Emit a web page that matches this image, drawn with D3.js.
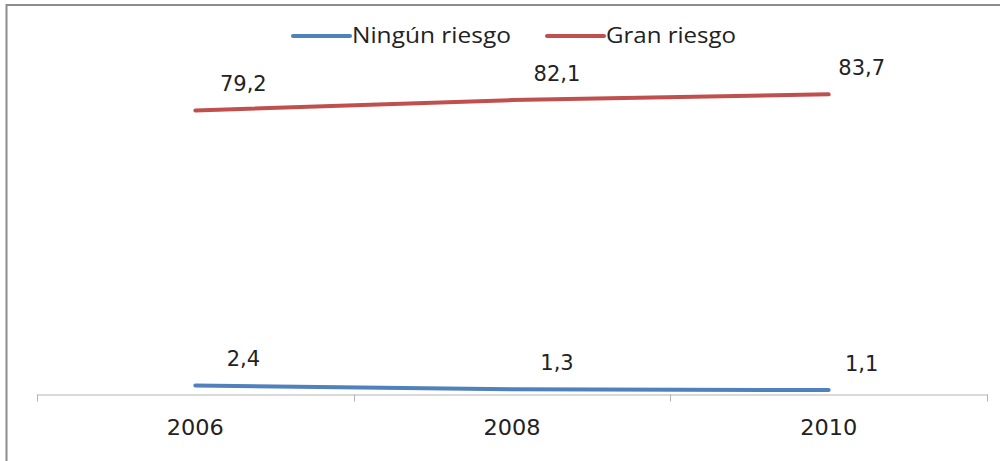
<!DOCTYPE html>
<html>
<head>
<meta charset="utf-8">
<script src="https://cdn.jsdelivr.net/npm/d3@7"></script>
<style>
  body { margin: 0; background: #fff; }
  svg { display: block; }
  text { font-family: "DejaVu Sans", Verdana, sans-serif; fill: #222; }
  .legend text { font-family: "Liberation Sans Narrow", "Open Sans", sans-serif; }
</style>
</head>
<body>
<svg width="1007" height="461"></svg>
<script>
const years = ["2006", "2008", "2010"];
const seriesNames = ["Ningún riesgo", "Gran riesgo"];
const ningunRiesgo = [2.4, 1.3, 1.1];
const granRiesgo = [79.2, 82.1, 83.7];
const colors = ["#4f81bd", "#c0504d"];

const svg = d3.select("svg");

// frame (left and top edges are visible, rest is cropped)
svg.append("path")
  .attr("d", "M6.5,461V5H1000")
  .attr("fill", "none")
  .attr("stroke", "#8c8c8c")
  .attr("stroke-width", 2);

const x = d3.scaleBand().domain(years).range([37, 987]);
const y = d3.scaleLinear().domain([0, 90]).range([394, 394 - 90 * 3.58]);

// category axis
const xAxis = svg.append("g")
  .attr("transform", "translate(0,394.5)")
  .call(d3.axisBottom(x).tickSize(0).tickPadding(40));
xAxis.select(".domain").attr("stroke", "#b3b3b3");
xAxis.selectAll("text").attr("font-size", 21).attr("fill", "#222")
  .attr("font-family", "DejaVu Sans, sans-serif")
  .attr("dy", 0)
  .attr("textLength", 57).attr("lengthAdjust", "spacingAndGlyphs");
const bounds = years.map(d => x(d)).concat([x.range()[1]]);
xAxis.selectAll(".sep").data(bounds).enter().append("line")
  .attr("class", "sep")
  .attr("x1", d => Math.round(d) + 0.5).attr("x2", d => Math.round(d) + 0.5)
  .attr("y1", 0).attr("y2", 7)
  .attr("stroke", "#b3b3b3");

const series = [ningunRiesgo, granRiesgo].map((vals, i) => ({
  name: seriesNames[i], color: colors[i],
  values: vals.map((v, j) => ({ year: years[j], v, i: j }))
}));

const cx = d => x(d.year) + x.bandwidth() / 2;
const line = d3.line().x(cx).y(d => y(d.v));

svg.selectAll(".series").data(series).enter().append("path")
  .attr("d", d => line(d.values))
  .attr("fill", "none")
  .attr("stroke", d => d.color)
  .attr("stroke-width", 4)
  .attr("stroke-linecap", "round");

// label shift to the right of each point (last one sits closer to the edge)
const labelDx = [48, 45, 33];
const fmt = v => d3.format(".1f")(v).replace(".", ",");
series.forEach(s => {
  svg.selectAll(null).data(s.values).enter().append("text")
    .attr("x", d => cx(d) + labelDx[d.i])
    .attr("y", d => y(d.v) - 19)
    .attr("text-anchor", "middle")
    .attr("font-size", 21)
    .text(d => fmt(d.v));
});

// legend
const legend = svg.append("g").attr("class", "legend");
const legendX = [293, 547];
const legendW = [159, 130];
series.forEach((s, i) => {
  const g = legend.append("g").attr("transform", `translate(${legendX[i]},36)`);
  g.append("line").attr("x1", 0).attr("x2", 57)
    .attr("stroke", s.color).attr("stroke-width", 4).attr("stroke-linecap", "round");
  g.append("text").attr("x", 59).attr("y", 7).attr("font-size", 22)
    .attr("textLength", legendW[i]).attr("lengthAdjust", "spacingAndGlyphs")
    .text(s.name);
});
</script>
</body>
</html>
